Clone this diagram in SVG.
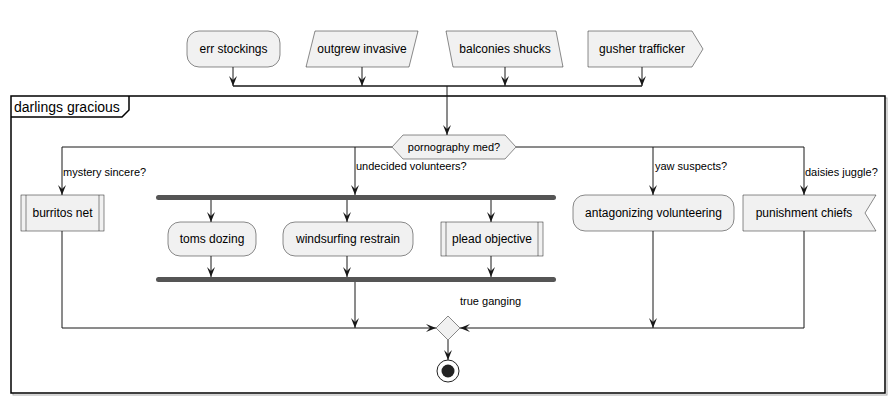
<svg xmlns="http://www.w3.org/2000/svg" width="896" height="404" viewBox="0 0 896 404">
<style>
.n{fill:#F1F1F1;stroke:#181818;stroke-width:0.5}
.t{font-family:"Liberation Sans",Arial,sans-serif;font-size:12px;fill:#000;text-anchor:middle}
.l{font-family:"Liberation Sans",Arial,sans-serif;font-size:11px;fill:#000}
.c{fill:none;stroke:#181818;stroke-width:1}
.a{marker-end:url(#ah)}
.bar{fill:#555555;stroke:none}
</style>
<defs>
<marker id="ah" viewBox="0 0 10 8" refX="10" refY="4" markerWidth="10" markerHeight="8" markerUnits="userSpaceOnUse" orient="auto">
<path d="M0,0 L10,4 L0,8 L4,4 Z" fill="#181818"/>
</marker>
</defs>
<rect width="896" height="404" fill="#FFFFFF"/>

<g id="frame">
<rect x="13" y="98" width="874" height="297" fill="none" stroke="#AAAAAA" stroke-width="1"/>
<rect x="11" y="96" width="874" height="297" fill="#FFFFFF" stroke="#000" stroke-width="1.5"/>
<path d="M11,117 L122,117 L129,110 L129,96" fill="none" stroke="#000" stroke-width="1.5"/>
<text x="14" y="112" font-family="Liberation Sans,Arial,sans-serif" font-size="14">darlings gracious</text>
</g>

<g id="connectors">
<line class="c a" x1="233" y1="67" x2="233" y2="86"/>
<line class="c a" x1="362" y1="67" x2="362" y2="86"/>
<line class="c a" x1="505" y1="67" x2="505" y2="86"/>
<line class="c a" x1="642" y1="67" x2="642" y2="86"/>
<line x1="233" y1="86" x2="642" y2="86" stroke="#181818" stroke-width="1.5"/>
<line class="c a" x1="447" y1="86" x2="447" y2="135"/>
<polyline class="c a" points="392,147 62,147 62,195"/>
<line class="c a" x1="355" y1="147" x2="355" y2="195"/>
<polyline class="c" points="516,147 804,147"/>
<line class="c a" x1="653" y1="147" x2="653" y2="195"/>
<line class="c a" x1="804" y1="147" x2="804" y2="195"/>
<line class="c a" x1="211" y1="200" x2="211" y2="222"/>
<line class="c a" x1="347" y1="200" x2="347" y2="222"/>
<line class="c a" x1="491" y1="200" x2="491" y2="222"/>
<line class="c a" x1="211" y1="256" x2="211" y2="277"/>
<line class="c a" x1="347" y1="256" x2="347" y2="277"/>
<line class="c a" x1="491" y1="256" x2="491" y2="277"/>
<line class="c a" x1="355" y1="282" x2="355" y2="328"/>
<polyline class="c a" points="62,231 62,328 436,328"/>
<line class="c a" x1="653" y1="231" x2="653" y2="328"/>
<polyline class="c a" points="804,231 804,328 460,328"/>
<line class="c a" x1="448" y1="340" x2="448" y2="360"/>
<text class="l" x="63" y="176">mystery sincere?</text>
<text class="l" x="356" y="170">undecided volunteers?</text>
<text class="l" x="655" y="170">yaw suspects?</text>
<text class="l" x="805" y="176">daisies juggle?</text>
<text class="l" x="460" y="305">true ganging</text>
</g>

<g id="err_stockings">
<rect class="n" x="187" y="31" width="93" height="36" rx="12" ry="12"/>
<text class="t" x="233.5" y="53">err stockings</text>
</g>
<g id="outgrew_invasive">
<polygon class="n" points="315,31 418,31 409,67 306,67"/>
<text class="t" x="362" y="53">outgrew invasive</text>
</g>
<g id="balconies_shucks">
<polygon class="n" points="446,31 556,31 563,67 453,67"/>
<text class="t" x="505" y="53">balconies shucks</text>
</g>
<g id="gusher_trafficker">
<polygon class="n" points="588,31 692,31 703,49 692,67 588,67"/>
<text class="t" x="642" y="53">gusher trafficker</text>
</g>

<g id="pornography_med">
<polygon class="n" points="392,147 403,135 505,135 516,147 505,159 403,159"/>
<text class="l" x="454" y="151" text-anchor="middle">pornography med?</text>
</g>

<g id="burritos_net">
<rect class="n" x="21" y="195" width="83" height="36"/>
<line x1="26" y1="195" x2="26" y2="231" stroke="#181818" stroke-width="0.5"/>
<line x1="99" y1="195" x2="99" y2="231" stroke="#181818" stroke-width="0.5"/>
<text class="t" x="62.5" y="217">burritos net</text>
</g>

<g id="fork">
<rect class="bar" x="156" y="195" width="400" height="5" rx="2.5"/>
</g>
<g id="toms_dozing">
<rect class="n" x="168" y="222" width="88" height="34" rx="12" ry="12"/>
<text class="t" x="212" y="243">toms dozing</text>
</g>
<g id="windsurfing_restrain">
<rect class="n" x="283" y="222" width="130" height="34" rx="12" ry="12"/>
<text class="t" x="348" y="243">windsurfing restrain</text>
</g>
<g id="plead_objective">
<rect class="n" x="441" y="222" width="102" height="34"/>
<line x1="446" y1="222" x2="446" y2="256" stroke="#181818" stroke-width="0.5"/>
<line x1="538" y1="222" x2="538" y2="256" stroke="#181818" stroke-width="0.5"/>
<text class="t" x="492" y="243">plead objective</text>
</g>
<g id="join">
<rect class="bar" x="156" y="277" width="400" height="5" rx="2.5"/>
</g>

<g id="antagonizing_volunteering">
<rect class="n" x="573" y="195" width="161" height="36" rx="12" ry="12"/>
<text class="t" x="653.5" y="217">antagonizing volunteering</text>
</g>
<g id="punishment_chiefs">
<polygon class="n" points="743,195 876,195 865,213 876,231 743,231"/>
<text class="t" x="804" y="217">punishment chiefs</text>
</g>

<g id="merge">
<polygon class="n" points="448,316 460,328 448,340 436,328"/>
</g>
<g id="stop">
<circle cx="448" cy="371" r="11" fill="#FFFFFF" stroke="#222222" stroke-width="1"/>
<circle cx="448" cy="371" r="6.5" fill="#222222"/>
</g>
</svg>
